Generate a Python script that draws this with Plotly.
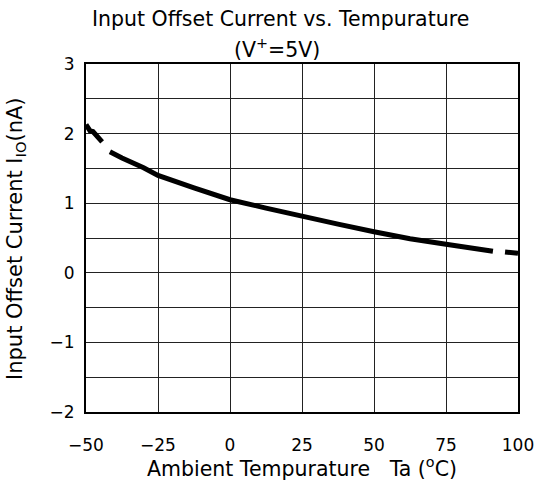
import plotly.graph_objects as go

# Data
temp_seg1 = [-50, -48.6, -47.6, -44.4]
iio_seg1 = [2.13, 2.04, 2.03, 1.88]
temp_seg2 = [-41.7, -37.5, -30, -25, -12.5, 0, 12.5, 25, 37.5, 50, 62.5, 75, 85, 91.3]
iio_seg2 = [1.74, 1.65, 1.51, 1.40, 1.22, 1.05, 0.93, 0.81, 0.70, 0.59, 0.49, 0.41, 0.35, 0.31]
temp_seg3 = [95.5, 100]
iio_seg3 = [0.30, 0.28]

x_ticks = [-50, -25, 0, 25, 50, 75, 100]
y_ticks = [-2, -1, 0, 1, 2, 3]

W, H = 537, 481
L, R, T, B = 86, 518, 64, 412


def px(x):
    return (x - L) / (R - L)


def py(y):
    return (B - y) / (B - T)


xs = temp_seg1 + [None] + temp_seg2 + [None] + temp_seg3
ys = iio_seg1 + [None] + iio_seg2 + [None] + iio_seg3

FONT = "DejaVu Sans"
TS = 20.5

fig = go.Figure()
fig.add_trace(go.Scatter(x=xs, y=ys, mode="lines", connectgaps=False,
                         line=dict(color="black", width=5), showlegend=False))

fig.update_layout(
    width=W, height=H,
    margin=dict(l=L, r=W - R, t=T, b=H - B, autoexpand=False),
    paper_bgcolor="white", plot_bgcolor="white",
    font=dict(family=FONT, color="black", size=17),
    xaxis=dict(range=[-50, 100], tickvals=x_ticks, showgrid=True,
               gridcolor="#222", gridwidth=1.3, zeroline=False,
               showline=True, linecolor="black", linewidth=2, mirror=True,
               ticks="", ticklabelstandoff=17,
               tickfont=dict(family=FONT, size=17)),
    yaxis=dict(range=[-2, 3], tickvals=y_ticks, showgrid=True,
               gridcolor="#222", gridwidth=1.3, zeroline=False,
               showline=True, linecolor="black", linewidth=2, mirror=True,
               ticks="", ticklabelstandoff=6,
               tickfont=dict(family=FONT, size=17),
               minor=dict(dtick=0.5, tick0=0, showgrid=True,
                          gridcolor="#222", gridwidth=1.3, ticks="")),
    annotations=[
        dict(text="Input Offset Current vs. Tempurature", xref="paper", yref="paper",
             x=px(280), y=py(19), xanchor="center", yanchor="middle",
             showarrow=False, font=dict(family=FONT, size=TS)),
        dict(text="(V<sup>+</sup>=5V)", xref="paper", yref="paper",
             x=px(277), y=py(49), xanchor="center", yanchor="middle",
             showarrow=False, font=dict(family=FONT, size=TS)),
        dict(text="Ambient Tempurature\u00a0\u00a0\u00a0Ta (<sup>o</sup>C)", xref="paper", yref="paper",
             x=px(302), y=py(467), xanchor="center", yanchor="middle",
             showarrow=False, font=dict(family=FONT, size=TS)),
        dict(text="Input Offset Current I<sub>IO</sub>(nA)", xref="paper", yref="paper",
             x=px(16), y=py(239), xanchor="center", yanchor="middle", textangle=-90,
             showarrow=False, font=dict(family=FONT, size=21)),
    ],
)

fig.write_html("out.html", config={"displayModeBar": False},
               post_script="document.body.style.margin='0';document.body.style.padding='0';")
